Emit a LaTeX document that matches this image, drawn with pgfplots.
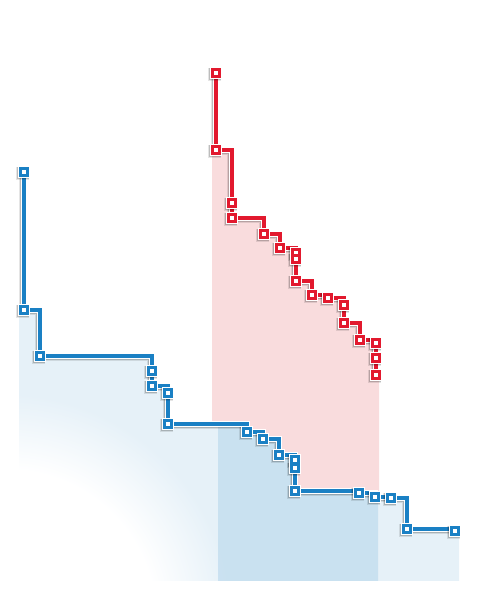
\documentclass[border=0pt]{standalone}
\usepackage{pgfplots}
\usepackage{pgfplotstable}
\pgfplotsset{compat=1.18}
\definecolor{kmblue}{HTML}{1A80C4}
\definecolor{kmred}{HTML}{E2192E}
\definecolor{fillblue}{HTML}{E6F1F8}
\definecolor{fillpink}{HTML}{F9DCDD}
% white radial fade from the lower-left corner of the blue area
\pgfdeclarefunctionalshading{whitefade}{\pgfpoint{-50bp}{-50bp}}{\pgfpoint{50bp}{50bp}}{}{
  5.42 mul 173.5 add dup mul exch 8.8 mul 233 add dup mul add sqrt
  149 sub 76 div dup 0 lt {pop 0} if dup 1 gt {pop 1} if
  dup 0.098 mul 1 exch sub
  exch dup 0.055 mul 1 exch sub
  exch 0.027 mul 1 exch sub
}

\pgfplotstableread{
x y
24 428
24 290
40 244
152 229
152 214
168 207
168 176
247 168
263 161
279 145
295 140
295 132
295 109
359 107
375 103
391 102
407 71
455 69
}\bluedata

\pgfplotstableread{
x y
216 527
216 450
232 397
232 382
264 366
280 352
296 347
296 341
296 319
312 305
328 302
344 295
344 277
360 260
376 257
376 242
376 225
}\reddata

\pgfplotstableread{
x y
19 290
40 244
152 214
168 176
247 168
263 161
279 145
295 109
359 107
375 103
391 102
407 71
459 69
459 19
19 19
}\bluefill

\pgfplotstableread{
x y
218 176
247 168
263 161
279 145
295 109
359 107
375 103
378 103
378 19
218 19
}\bandfill

\pgfplotstableread{
x y
212 450
232 382
264 366
280 352
296 319
312 305
328 302
344 277
360 260
376 225
379 225
379 19
212 19
}\redfill

\begin{document}
\begin{tikzpicture}
\begin{axis}[
  scale only axis, width=12cm, height=15cm,
  xmin=0, xmax=480, ymin=0, ymax=600,
  axis line style={draw=none}, ticks=none, clip=false,
  shadowA/.style={const plot, draw=black, opacity=0.10, line width=5.2pt, xshift=-1.0pt, yshift=-1.0pt,
    mark=square*, mark size=2.25pt, mark options={fill=black, draw=black, line width=4.8pt}},
  shadowB/.style={const plot, draw=black, opacity=0.18, line width=3.9pt, xshift=-0.8pt, yshift=-0.8pt,
    mark=square*, mark size=2.25pt, mark options={fill=black, draw=black, line width=3.6pt}},
  halo/.style={const plot, draw=white, line width=4.3pt,
    mark=square*, mark size=2.25pt, mark options={fill=white, draw=white, line width=4.0pt}},
  main/.style={const plot, draw=#1, line width=2.4pt,
    mark=square*, mark size=2.25pt, mark options={fill=white, draw=#1, line width=1.95pt}}]
% areas
\addplot[fill=fillpink, draw=none, const plot] table {\redfill};
\addplot[shading=whitefade, draw=none, const plot] table {\bluefill};
\addplot[fill=kmblue, fill opacity=0.14, draw=none, const plot] table {\bandfill};
% blue series
\addplot[shadowA] table {\bluedata};
\addplot[shadowB] table {\bluedata};
\addplot[halo] table {\bluedata};
\addplot[main=kmblue] table {\bluedata};
% red series
\addplot[shadowA] table {\reddata};
\addplot[shadowB] table {\reddata};
\addplot[halo] table {\reddata};
\addplot[main=kmred] table {\reddata};
\end{axis}
\end{tikzpicture}
\end{document}
